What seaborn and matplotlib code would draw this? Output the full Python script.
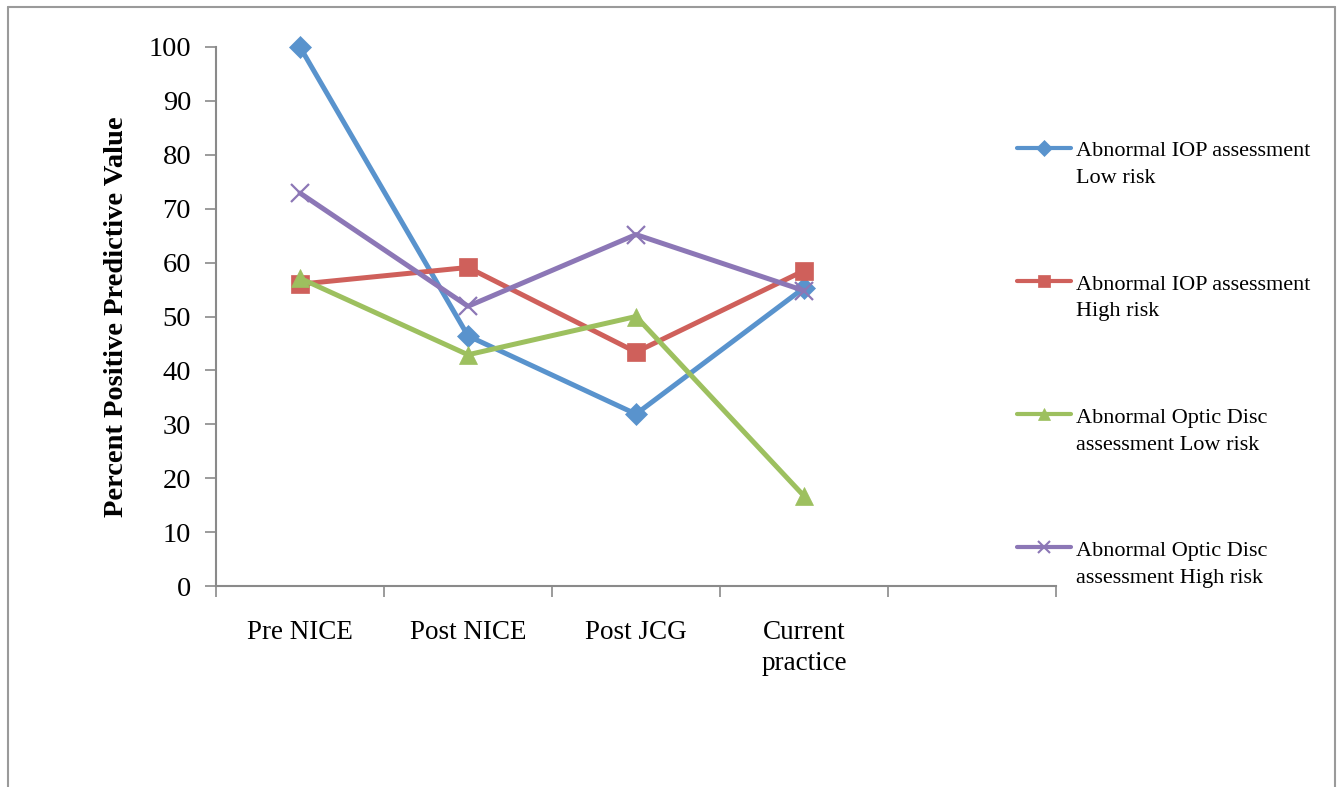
import matplotlib
matplotlib.use("Agg")
import matplotlib.pyplot as plt
from matplotlib.lines import Line2D
import numpy as np
import pandas as pd
import seaborn as sns

# Study periods (a fifth, empty slot is kept on the axis)
periods = ["Pre NICE", "Post NICE", "Post JCG", "Current\npractice"]

# Percent positive predictive value per referral reason
iop_low = [100.0, 46.4, 31.9, 55.3]
iop_high = [56.0, 59.1, 43.4, 58.5]
disc_low = [57.1, 42.9, 50.0, 16.7]
disc_high = [72.9, 51.9, 65.2, 54.8]

series_names = [
    "Abnormal IOP assessment\nLow risk",
    "Abnormal IOP assessment\nHigh risk",
    "Abnormal Optic Disc\nassessment Low risk",
    "Abnormal Optic Disc\nassessment High risk",
]
series_values = [iop_low, iop_high, disc_low, disc_high]
colors = ["#5993CD", "#CF605B", "#9DC05F", "#8C77B6"]
markers = ["D", "s", "^", "x"]
marker_sizes = [11, 13, 13, 13]

sns.set_theme(style="white")
plt.rcParams["font.family"] = ["Liberation Serif", "DejaVu Serif"]
plt.rcParams["text.color"] = "black"
plt.rcParams["axes.labelcolor"] = "black"

rows = []
for name, vals in zip(series_names, series_values):
    for i, v in enumerate(vals):
        rows.append({"series": name, "pos": i, "ppv": v})
df = pd.DataFrame(rows)

W, H = 1338, 787
fig = plt.figure(figsize=(W / 100, H / 100), dpi=100)
ax = fig.add_axes([216 / W, 1 - 586 / H, 840 / W, 539 / H])

for name, c, m, ms in zip(series_names, colors, markers, marker_sizes):
    sub = df[df["series"] == name]
    sns.lineplot(data=sub, x="pos", y="ppv", ax=ax, color=c, linewidth=3.6,
                 marker=m, markersize=ms, markeredgecolor=c,
                 markeredgewidth=1.6 if m == "x" else 0.5, legend=False,
                 clip_on=False)

ax.set_xlim(-0.5, 4.5)
ax.set_ylim(0, 100)

# category boundaries carry the tick marks, centres carry the labels
ax.set_xticks(np.arange(-0.5, 5.0, 1.0))
ax.set_xticklabels([])
ax.set_xticks(np.arange(len(periods)), minor=True)
ax.set_xticklabels(periods, minor=True, fontsize=19.5, linespacing=1.3)
ax.tick_params(axis="x", which="minor", length=0, pad=24.5, labelcolor="black")
ax.tick_params(axis="x", which="major", length=8, width=1.2, color="#8a8a8a",
               direction="out", bottom=True)

ax.set_yticks(np.arange(0, 101, 10))
ax.set_yticklabels([str(v) for v in range(0, 101, 10)], fontsize=20.5)
ax.tick_params(axis="y", length=8, width=1.2, color="#8a8a8a", direction="out",
               left=True, pad=10, labelcolor="black")

for s in ["top", "right"]:
    ax.spines[s].set_visible(False)
for s in ["left", "bottom"]:
    ax.spines[s].set_color("#8a8a8a")
    ax.spines[s].set_linewidth(1.5)

ax.set_xlabel("")
ax.set_ylabel("Percent Positive Predictive Value", fontsize=20.5,
              fontweight="bold", labelpad=14, color="black")

# legend: handle beside the first line of each two-line label
leg_x0, leg_x1, text_x = 1017 / W, 1071 / W, 1076 / W
first_handle_y, first_base_y, step = 147.5, 156.5, 133.3
for k, (name, c, m) in enumerate(zip(series_names, colors, markers)):
    hy = 1 - (first_handle_y + k * step) / H
    fig.add_artist(Line2D([leg_x0, leg_x1], [hy, hy], color=c, linewidth=3.0,
                          transform=fig.transFigure))
    fig.add_artist(Line2D([(leg_x0 + leg_x1) / 2], [hy], color=c, marker=m,
                          markersize=9 if m != "D" else 8, markeredgecolor=c,
                          markeredgewidth=1.5 if m == "x" else 0.5,
                          linestyle="none", transform=fig.transFigure))
    by = 1 - (first_base_y + k * step) / H
    first, second = name.split("\n")
    fig.text(text_x, by, first, fontsize=16, va="baseline", ha="left", color="black")
    fig.text(text_x, by - 26.5 / H, second, fontsize=16, va="baseline", ha="left",
             color="black")

# outer chart frame
frame_kw = dict(color="#9a9a9a", linewidth=1.5, transform=fig.transFigure)
fig.add_artist(Line2D([8 / W, 8 / W], [0, 1 - 7 / H], **frame_kw))
fig.add_artist(Line2D([8 / W, 1335 / W], [1 - 7 / H, 1 - 7 / H], **frame_kw))
fig.add_artist(Line2D([1335 / W, 1335 / W], [0, 1 - 7 / H], **frame_kw))

fig.savefig("out.png", dpi=100, facecolor="white")
